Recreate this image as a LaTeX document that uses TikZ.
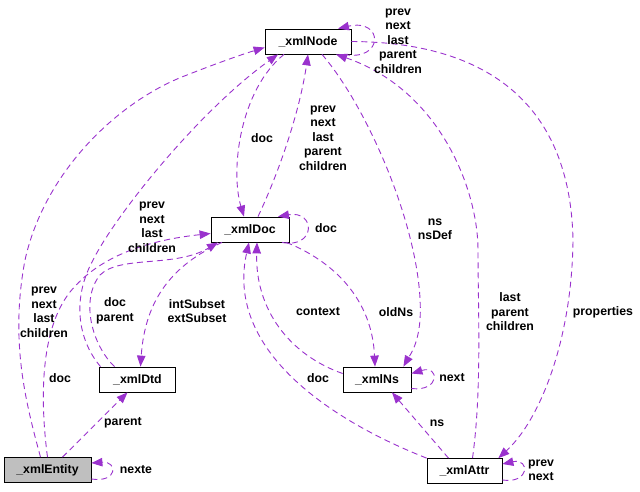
\documentclass[tikz,border=0pt]{standalone}
\usepackage{fontspec}
\setmainfont{Liberation Sans}
\usetikzlibrary{arrows.meta}

\definecolor{relcol}{HTML}{9A32CD}
\definecolor{entfill}{HTML}{BFBFBF}

\begin{document}
\begin{tikzpicture}[x=1pt, y=-1pt,
    font=\fontsize{12.3}{14.5}\selectfont\bfseries,
    cls/.style={draw=black, fill=white, line width=0.8pt, minimum height=25pt, inner sep=0pt},
    rel/.style={draw=relcol, line width=0.9pt, dash pattern=on 6pt off 4pt, -{Triangle[length=11pt,width=8.5pt]}},
    lbl/.style={align=center, inner sep=0pt}
]
    \useasboundingbox (0,0) rectangle (640,491);

    % Classes
    \node[cls, minimum width=86pt] (xnode) at (308,41.5) {\_xmlNode};
    \node[cls, minimum width=78pt] (xdoc) at (250,229.5) {\_xmlDoc};
    \node[cls, minimum width=76pt] (xdtd) at (137.5,379.5) {\_xmlDtd};
    \node[cls, minimum width=68pt] (xns) at (377,379.5) {\_xmlNs};
    \node[cls, minimum width=75pt] (xattr) at (464.5,471) {\_xmlAttr};
    \node[cls, minimum width=87pt, fill=entfill] (xent) at (47.5,470) {\_xmlEntity};

    % _xmlEntity
    \draw[rel] ([xshift=-7pt]xent.north) .. controls (25,400) and (10,340) .. (25,260)
        .. controls (45,170) and (120,100) .. (187,75) .. controls (215,64) and (240,55) .. ([yshift=-6pt]xnode.west);
    \draw[rel] (xent.north) .. controls (40,400) and (40,330) .. (70,292)
        .. controls (100,255) and (150,240) .. ([yshift=-4pt]xdoc.west);
    \draw[rel] ([xshift=15pt]xent.north) -- ([xshift=-10pt]xdtd.south);
    \draw[rel] ([yshift=-9pt]xent.east) .. controls (118,483) and (118,461) .. ([yshift=7pt]xent.east);

    % _xmlDtd
    \draw[rel] ([xshift=-37pt]xdtd.north) .. controls (78,340) and (72,300) .. (92,262)
        .. controls (115,215) and (200,110) .. ([xshift=-30pt]xnode.south);
    \draw[rel] ([xshift=-23pt]xdtd.north) .. controls (92,345) and (80,300) .. (100,275)
        .. controls (120,255) and (175,268) .. ([xshift=-32pt]xdoc.south);

    % _xmlDoc
    \draw[rel] ([xshift=-28pt]xdoc.south) .. controls (172,265) and (145,300) .. ([xshift=3pt]xdtd.north);
    \draw[rel] ([xshift=8pt]xdoc.north) .. controls (280,170) and (300,110) .. (xnode.south);
    \draw[rel] ([xshift=32pt]xdoc.south) .. controls (316,249) and (316,210) .. ([xshift=28pt]xdoc.north);
    \draw[rel] ([xshift=-3pt]xdoc.south east) .. controls (335,262) and (372,300) .. ([xshift=-2pt]xns.north);

    % _xmlNode
    \draw[rel] ([xshift=-24pt]xnode.south) .. controls (240,90) and (230,170) .. ([xshift=-6pt]xdoc.north);
    \draw[rel] ([xshift=36pt]xnode.south) .. controls (384,62) and (384,18) .. ([xshift=30pt]xnode.north);
    \draw[rel] ([xshift=14pt]xnode.south) .. controls (370,110) and (425,240) .. (420,320)
        .. controls (418,345) and (410,355) .. ([xshift=-8pt]xns.north east);
    \draw[rel] (xnode.east) .. controls (470,42) and (570,90) .. (573,240)
        .. controls (572,340) and (540,420) .. ([xshift=-4pt]xattr.north east);

    % _xmlNs
    \draw[rel] ([yshift=6pt]xns.west) .. controls (290,355) and (255,310) .. ([xshift=7pt]xdoc.south);
    \draw[rel] ([yshift=-9pt]xns.east) .. controls (440,392) and (440,365) .. ([yshift=6pt]xns.east);

    % _xmlAttr
    \draw[rel] (xattr.north west) .. controls (330,420) and (225,350) .. ([xshift=-1pt]xdoc.south);
    \draw[rel] ([xshift=-16pt]xattr.north) -- ([xshift=15pt]xns.south);
    \draw[rel] ([xshift=8pt]xattr.north) .. controls (482,390) and (478,310) .. (478,250)
        .. controls (478,190) and (440,90) .. ([xshift=28pt]xnode.south);
    \draw[rel] ([yshift=-9pt]xattr.east) .. controls (530,484) and (530,458) .. ([yshift=7pt]xattr.east);

    % Labels
    \node[lbl] (lnodeself) at (398,41) {prev\\next\\last\\parent\\children};
    \node[lbl] (lentnode) at (44,312) {prev\\next\\last\\children};
    \node[lbl] (lentdoc) at (60,378) {doc};
    \node[lbl] (lentdtd) at (123,423) {parent};
    \node[lbl] (lentself) at (136,470) {nexte};
    \node[lbl] (ldtdnode) at (152,227) {prev\\next\\last\\children};
    \node[lbl] (ldtddoc) at (115,311) {doc\\parent};
    \node[lbl] (ldocdtd) at (197,311) {intSubset\\extSubset};
    \node[lbl] (lnodedoc) at (262,138) {doc};
    \node[lbl] (ldocnode) at (323,138) {prev\\next\\last\\parent\\children};
    \node[lbl] (ldocself) at (326,228) {doc};
    \node[lbl] (lnodens) at (435,229) {ns\\nsDef};
    \node[lbl] (lnsdoc) at (318,312) {context};
    \node[lbl] (ldocns) at (396,312) {oldNs};
    \node[lbl] (lattrnode) at (510,312) {last\\parent\\children};
    \node[lbl] (lnodeattr) at (603,312) {properties};
    \node[lbl] (lattrdoc) at (318,378) {doc};
    \node[lbl] (lnsself) at (452,378) {next};
    \node[lbl] (lattrns) at (437,423) {ns};
    \node[lbl] (lattrself) at (541,470) {prev\\next};
\end{tikzpicture}
\end{document}
